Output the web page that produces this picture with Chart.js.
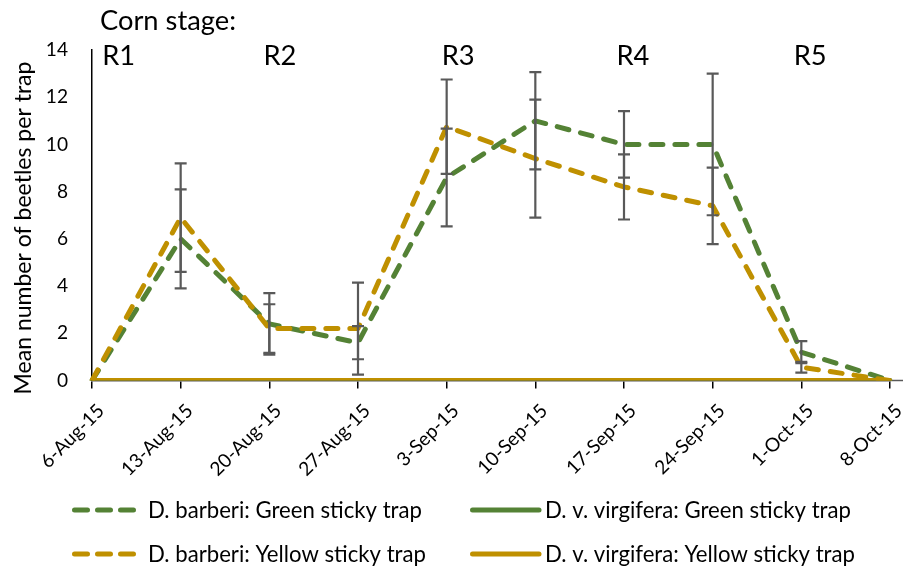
<!DOCTYPE html>
<html><head><meta charset="utf-8">
<script src="https://cdn.jsdelivr.net/npm/chart.js@4.4.0/dist/chart.umd.min.js"></script>
<style>html,body{margin:0;padding:0;background:#fff;}#wrap{width:904px;height:568px;}</style>
</head><body><div id="wrap"><canvas id="c" width="904" height="568"></canvas></div>
<script>
const dates = ['6-Aug-15','13-Aug-15','20-Aug-15','27-Aug-15','3-Sep-15','10-Sep-15','17-Sep-15','24-Sep-15','1-Oct-15','8-Oct-15'];
const barberiGreen     = [0, 6.0, 2.4, 1.6, 8.6, 11.0, 10.0, 10.0, 1.2, 0];
const barberiGreenErr  = [0, 2.1, 1.3, 0.7, 2.07, 2.06, 1.41, 3.0, 0.47, 0];
const virgiferaGreen   = [0, 0, 0, 0, 0, 0, 0, 0, 0, 0];
const barberiYellow    = [0, 6.9, 2.2, 2.2, 10.75, 9.4, 8.2, 7.4, 0.56, 0];
const barberiYellowErr = [0, 2.3, 1.03, 1.95, 2.0, 2.5, 1.38, 1.62, 0.23, 0];
const virgiferaYellow  = [0, 0, 0, 0, 0, 0, 0, 0, 0, 0];
const yTicks = [0, 2, 4, 6, 8, 10, 12, 14];
const stageTitle = 'Corn stage:';
const stages = ['R1', 'R2', 'R3', 'R4', 'R5'];
const stageAt = [0.3, 2.12, 4.13, 6.1, 8.1];
const yTitle = 'Mean number of beetles per trap';

const GREEN = '#548235', GOLD = '#BF9000', ERR = '#595959';
const FAMILY = 'Lato, "Open Sans", sans-serif';
function fit(text, target){
  const c = document.createElement('canvas').getContext('2d');
  c.font = '100px ' + FAMILY;
  return 100 * target / c.measureText(text).width;
}
const stageSize = fit(stageTitle, 136);
const legendSize = fit('D. barberi: Green sticky trap', 274);
const titleSize = fit(yTitle, 333);
const tickSize = fit('13-Aug-15', 92);

const dashed = {borderDash:[12,12], borderCapStyle:'round', borderJoinStyle:'round'};
const datasets = [
  Object.assign({label:'D. barberi: Green sticky trap', data:barberiGreen, err:barberiGreenErr, borderColor:GREEN, backgroundColor:GREEN, borderWidth:5, order:4, dashedKey:true}, dashed),
  {label:'D. v. virgifera: Green sticky trap', data:virgiferaGreen, borderColor:GREEN, backgroundColor:GREEN, borderWidth:5, order:3, borderCapStyle:'round'},
  Object.assign({label:'D. barberi: Yellow sticky trap', data:barberiYellow, err:barberiYellowErr, borderColor:GOLD, backgroundColor:GOLD, borderWidth:5, order:2, dashedKey:true}, dashed),
  {label:'D. v. virgifera: Yellow sticky trap', data:virgiferaYellow, borderColor:GOLD, backgroundColor:GOLD, borderWidth:5, order:1, borderCapStyle:'butt'}
];

const errorBars = {
  id:'errorBars',
  afterDatasetsDraw(chart){
    const ctx = chart.ctx, xs = chart.scales.x, ys = chart.scales.y;
    ctx.save();
    ctx.strokeStyle = ERR; ctx.lineWidth = 2.2; ctx.setLineDash([]); ctx.lineCap = 'butt';
    chart.data.datasets.forEach(ds => {
      if (!ds.err) return;
      ds.data.forEach((v, i) => {
        const e = ds.err[i]; if (!e) return;
        const x = xs.getPixelForValue(i);
        const y1 = ys.getPixelForValue(v + e), y2 = ys.getPixelForValue(v - e);
        ctx.beginPath();
        ctx.moveTo(x, y1); ctx.lineTo(x, y2);
        ctx.moveTo(x - 6, y1); ctx.lineTo(x + 6, y1);
        ctx.moveTo(x - 6, y2); ctx.lineTo(x + 6, y2);
        ctx.stroke();
      });
    });
    ctx.restore();
  }
};

const decor = {
  id:'decor',
  beforeDatasetsDraw(chart){
    const ctx = chart.ctx, ca = chart.chartArea;
    ctx.save();
    ctx.strokeStyle = '#595959'; ctx.lineWidth = 1.5;
    ctx.beginPath(); ctx.moveTo(ca.right, ca.bottom); ctx.lineTo(ca.right + 13, ca.bottom); ctx.stroke();
    ctx.restore();
  },
  afterDraw(chart){
    const ctx = chart.ctx, xs = chart.scales.x;
    ctx.save();
    ctx.fillStyle = '#000';
    ctx.textBaseline = 'alphabetic';
    ctx.font = stageSize + 'px ' + FAMILY;
    ctx.textAlign = 'left';
    ctx.fillText(stageTitle, 100, 30);
    ctx.textAlign = 'center';
    stages.forEach((s, i) => ctx.fillText(s, xs.getPixelForValue(stageAt[i]), 65));
    ctx.save();
    ctx.translate(24, 228);
    ctx.rotate(-Math.PI / 2);
    ctx.font = titleSize + 'px ' + FAMILY;
    ctx.textAlign = 'center'; ctx.textBaseline = 'middle';
    ctx.fillText(yTitle, 0, 0);
    ctx.restore();
    const colSym = [72, 470], colText = [148, 545], rowY = [510, 554];
    ctx.font = legendSize + 'px ' + FAMILY;
    ctx.textAlign = 'left'; ctx.textBaseline = 'middle';
    chart.data.datasets.forEach((ds, i) => {
      const c = i % 2, r = Math.floor(i / 2);
      const y = rowY[r];
      ctx.strokeStyle = ds.borderColor; ctx.lineWidth = 5; ctx.lineCap = 'round';
      ctx.beginPath();
      if (ds.dashedKey) { ctx.setLineDash([13, 10]); ctx.moveTo(colSym[c] + 2.5, y); ctx.lineTo(colSym[c] + 62.5, y); }
      else { ctx.setLineDash([]); ctx.moveTo(colSym[c] + 2.5, y); ctx.lineTo(colSym[c] + 69, y); }
      ctx.stroke();
      ctx.setLineDash([]);
      ctx.fillText(ds.label, colText[c], y + 1);
    });
    ctx.restore();
  }
};

const chart = new Chart(document.getElementById('c'), {
  type:'line',
  data:{labels:dates, datasets},
  options:{
    responsive:false, animation:false, devicePixelRatio:1,
    layout:{padding:{top:50, right:14, left:0, bottom:0}},
    plugins:{legend:{display:false}, tooltip:{enabled:false}},
    elements:{point:{radius:0, hoverRadius:0}, line:{tension:0}},
    scales:{
      x:{type:'category', offset:false,
        grid:{drawOnChartArea:false, drawTicks:true, tickLength:8, color:'#000', lineWidth:1.5},
        border:{display:true, color:'#595959', width:1.5},
        ticks:{autoSkip:false, minRotation:45, maxRotation:45, color:'#000', font:{family:FAMILY, size:tickSize}, padding:11, labelOffset:9},
        afterFit(s){ s.height = 568 - 380.5; s.paddingLeft = 0; s.paddingRight = 0; }
      },
      y:{min:0, max:14,
        grid:{drawOnChartArea:false, drawTicks:false},
        border:{display:true, color:'#000', width:1.5},
        ticks:{color:'#000', font:{family:FAMILY, size:tickSize}, padding:24},
        afterBuildTicks(s){ s.ticks = yTicks.map(v => ({value:v})); },
        afterFit(s){ s.width = 92; s.paddingTop = 0; s.paddingBottom = 0; }
      }
    }
  },
  plugins:[errorBars, decor]
});
const target = {top:50, right:890};
for (let k = 0; k < 2; k++) {
  const ca = chart.chartArea, p = chart.options.layout.padding;
  p.top += target.top - ca.top;
  p.right += ca.right - target.right;
  chart.update();
}
</script></body></html>
